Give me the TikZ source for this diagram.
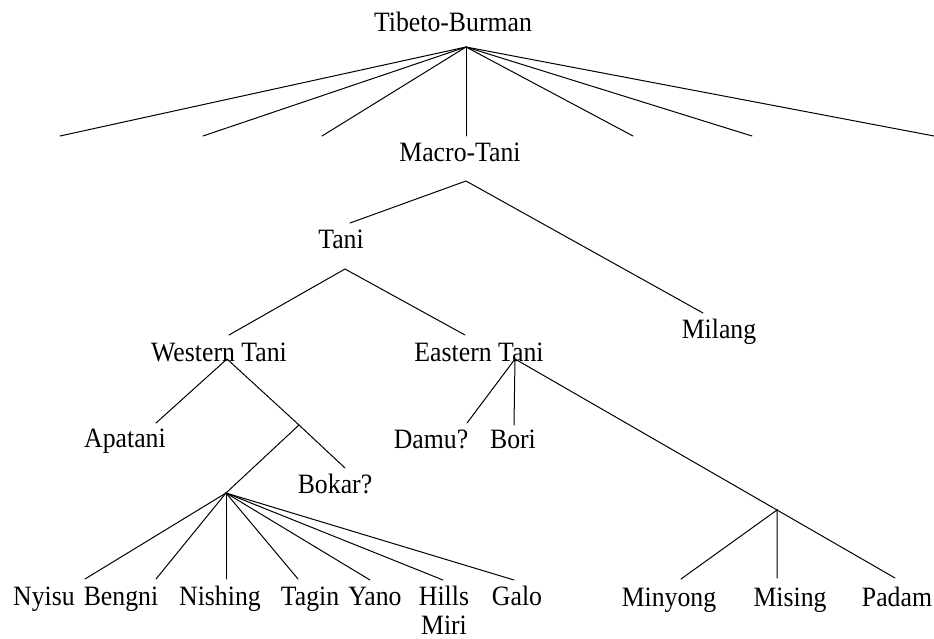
\documentclass[tikz,border=0pt]{standalone}
\usepackage{fontspec}
\setmainfont{Liberation Serif}[FakeStretch=0.92]
\usetikzlibrary{calc}
\begin{document}
\begin{tikzpicture}[x=1pt,y=-1pt]
\tikzset{
  lbl/.style={anchor=base, inner sep=0pt, font=\fontsize{28}{29}\selectfont},
  br/.style={line width=1pt, line cap=round}
}
\useasboundingbox[fill=white] (0,0) rectangle (934,639);
% labels
\node[lbl] (tb) at (453,32) {Tibeto-Burman};
\node[lbl] (mt) at (460,162) {Macro-Tani};
\node[lbl] (tani) at (341,248) {Tani};
\node[lbl] (milang) at (719,338) {Milang};
\node[lbl] (wt) at (219,361) {Western Tani};
\node[lbl] (et) at (479,361) {Eastern Tani};
\node[lbl] (apatani) at (125,447) {Apatani};
\node[lbl] (damu) at (431,448) {Damu?};
\node[lbl] (bori) at (513,448) {Bori};
\node[lbl] (bokar) at (335,493) {Bokar?};
\node[lbl] (nyisu) at (44,605) {Nyisu};
\node[lbl] (bengni) at (121,605) {Bengni};
\node[lbl] (nishing) at (220,605) {Nishing};
\node[lbl] (tagin) at (310,605) {Tagin};
\node[lbl] (yano) at (375,605) {Yano};
\node[lbl, align=center] (hills) at (444,634) {Hills\\Miri};
\node[lbl] (galo) at (517,605) {Galo};
\node[lbl] (minyong) at (669,606) {Minyong};
\node[lbl] (mising) at (790,606) {Mising};
\node[lbl] (padam) at (897,606) {Padam};
% attachment points
\coordinate (tbA) at (466,47);
\coordinate (b1) at (60,136);
\coordinate (b2) at (203,136);
\coordinate (b3) at (322,136);
\coordinate (mtT) at (466,136);
\coordinate (b5) at (633,136);
\coordinate (b6) at (752,136);
\coordinate (b7) at (934,136);
\coordinate (mtA) at (466,181);
\coordinate (taniT) at (350,223);
\coordinate (milangT) at (703,313);
\coordinate (taniA) at (345,269);
\coordinate (wtT) at (229,335);
\coordinate (etT) at (465,335);
\coordinate (wtA) at (227,359);
\coordinate (apT) at (156,423);
\coordinate (wj) at (299,425);
\coordinate (bokT) at (345,468);
\coordinate (lowA) at (226,493);
\coordinate (nyT) at (85,579);
\coordinate (beT) at (156,579);
\coordinate (niT) at (226,579);
\coordinate (taT) at (298,579);
\coordinate (yaT) at (370,580);
\coordinate (hiT) at (443,580);
\coordinate (gaT) at (514,580);
\coordinate (etA) at (515,359);
\coordinate (daT) at (467,423);
\coordinate (boT) at (514,425);
\coordinate (paT) at (895,578);
\coordinate (ej) at ($(etA)!0.6895!(paT)$);
\coordinate (miT) at (681,579);
\coordinate (msT) at (777,578);
% branches
\foreach \e in {b1,b2,b3,mtT,b5,b6,b7} \draw[br] (tbA) -- (\e);
\draw[br] (taniT) -- (mtA) -- (milangT);
\draw[br] (wtT) -- (taniA) -- (etT);
\draw[br] (apT) -- (wtA) -- (wj) -- (bokT);
\draw[br] (wj) -- (lowA);
\foreach \e in {nyT,beT,niT,taT,yaT,hiT,gaT} \draw[br] (lowA) -- (\e);
\draw[br] (daT) -- (etA) -- (boT);
\draw[br] (etA) -- (paT);
\draw[br] (miT) -- (ej) -- (ej |- msT);
\end{tikzpicture}
\end{document}
